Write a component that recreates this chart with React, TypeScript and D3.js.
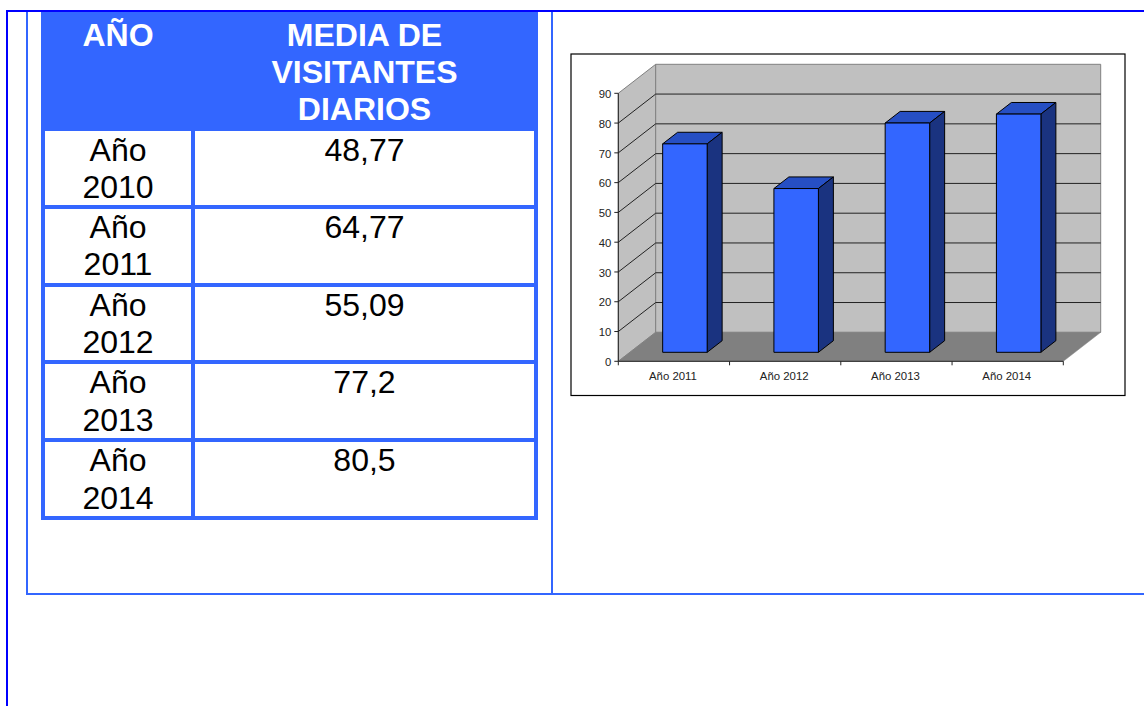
import React from "react";
import * as d3 from "d3";

const tableYears = ["2010", "2011", "2012", "2013", "2014"];
const tableValues = ["48,77", "64,77", "55,09", "77,2", "80,5"];
const headerLeft = ["AÑO"];
const headerRight = ["MEDIA DE", "VISITANTES", "DIARIOS"];
const rowTops = [131, 209, 287, 364, 442];
const rowHeights = [74, 74, 73, 74, 74];
const firstLineY = [161, 238, 316, 393, 471];
const secondLineY = [198, 275, 353, 431, 508.6];

const categories = ["Año 2011", "Año 2012", "Año 2013", "Año 2014"];
const values = [70, 55, 77, 80];
const yTicks = [0, 10, 20, 30, 40, 50, 60, 70, 80, 90];

const BLUE = "#3366FF";
const PURE = "#0000FF";
const FONT = "'Liberation Sans', Arial, sans-serif";

const x0 = 618.3, x1 = 1063.3;
const yBase = 361.3, yTop = 93.3;
const depthX = 37.4, depthY = -29;

const xScale = d3.scaleBand<string>().domain(categories).range([x0, x1]).paddingInner(0).paddingOuter(0);
const yScale = d3.scaleLinear().domain([0, 90]).range([yBase, yTop]);
// a point in the 3D box: x pixel, value, depth from 0 (front) to 1 (back)
const pt = (x: number, v: number, d: number): [number, number] => [x + depthX * d, yScale(v) + depthY * d];
const poly = (ps: [number, number][]) => (d3.line()(ps) as string) + "Z";

const barFrac = 0.4;
const dFront = 0.31;
const dBack = 0.71;

export default function App() {
  const bw = xScale.bandwidth();
  return (
    <svg width={1144} height={706} viewBox="0 0 1144 706" style={{ position: "absolute", left: 0, top: 0, display: "block", background: "#fff" }}>
      {/* page frame */}
      <rect x={6} y={10} width={1138} height={2} fill={PURE} />
      <rect x={6} y={10} width={2} height={696} fill={PURE} />
      <rect x={26} y={12} width={2} height={583} fill={BLUE} />
      <rect x={551} y={12} width={2} height={583} fill={BLUE} />
      <rect x={26} y={593} width={1118} height={2} fill={BLUE} />

      {/* table */}
      <rect x={41} y={12} width={497} height={508} fill={BLUE} />
      {rowTops.map((t, i) => (
        <g key={i}>
          <rect x={45} y={t} width={146} height={rowHeights[i]} fill="#fff" />
          <rect x={195} y={t} width={339} height={rowHeights[i]} fill="#fff" />
          <text x={118} y={firstLineY[i]} textAnchor="middle" fontFamily={FONT} fontSize={32} fill="#000">Año</text>
          <text x={118} y={secondLineY[i]} textAnchor="middle" fontFamily={FONT} fontSize={32} fill="#000">{tableYears[i]}</text>
          <text x={364.5} y={firstLineY[i]} textAnchor="middle" fontFamily={FONT} fontSize={32} fill="#000">{tableValues[i]}</text>
        </g>
      ))}
      {headerLeft.map((s, i) => (
        <text key={s} x={118} y={46 + i * 36.8} textAnchor="middle" fontFamily={FONT} fontSize={32} fontWeight="bold" fill="#fff">{s}</text>
      ))}
      {headerRight.map((s, i) => (
        <text key={s} x={364.5} y={46 + i * 36.8} textAnchor="middle" fontFamily={FONT} fontSize={32} fontWeight="bold" fill="#fff">{s}</text>
      ))}

      {/* chart box */}
      <rect x={571} y={54} width={554} height={341.5} fill="#fff" stroke="#000" strokeWidth={1.2} />

      {/* walls and floor */}
      <path d={poly([pt(x0, 90, 0), pt(x0, 90, 1), pt(x0, 0, 1), pt(x0, 0, 0)])} fill="#C0C0C0" stroke="#808080" strokeWidth={1} />
      <path d={poly([pt(x0, 90, 1), pt(x1, 90, 1), pt(x1, 0, 1), pt(x0, 0, 1)])} fill="#C0C0C0" stroke="#808080" strokeWidth={1} />
      <path d={poly([pt(x0, 0, 0), pt(x1, 0, 0), pt(x1, 0, 1), pt(x0, 0, 1)])} fill="#808080" stroke="#808080" strokeWidth={0.5} />

      {/* gridlines */}
      {yTicks.filter((t) => t > 0 && t < 90).map((t) => (
        <g key={t}>
          <path d={d3.line()([pt(x0, t, 0), pt(x0, t, 1), pt(x1, t, 1)]) as string} fill="none" stroke="#222" strokeWidth={1} />
        </g>
      ))}

      {/* bars */}
      {categories.map((c, i) => {
        const left = (xScale(c) as number) + (bw * (1 - barFrac)) / 2 - 0.6;
        const right = left + bw * barFrac;
        const v = values[i];
        return (
          <g key={c} stroke="#000" strokeWidth={1} strokeLinejoin="round">
            <path d={poly([pt(left, v, dFront), pt(right, v, dFront), pt(right, v, dBack), pt(left, v, dBack)])} fill="#264FC4" />
            <path d={poly([pt(right, v, dFront), pt(right, v, dBack), pt(right, 0, dBack), pt(right, 0, dFront)])} fill="#1A3380" />
            <path d={poly([pt(left, v, dFront), pt(right, v, dFront), pt(right, 0, dFront), pt(left, 0, dFront)])} fill={BLUE} />
          </g>
        );
      })}

      {/* axes */}
      <path d={`M${x0},${yTop}V${yBase}H${x1}`} fill="none" stroke="#222" strokeWidth={1} />
      {yTicks.map((t) => (
        <g key={t}>
          <line x1={x0 - 4} x2={x0} y1={yScale(t)} y2={yScale(t)} stroke="#222" strokeWidth={1} />
          <text x={x0 - 7} y={yScale(t) + 4.7} textAnchor="end" fontFamily={FONT} fontSize={11.3} fill="#222">{t}</text>
        </g>
      ))}
      <line x1={x0} x2={x0} y1={yBase} y2={yBase + 4} stroke="#222" />
      {categories.map((c) => {
        const s = xScale(c) as number;
        return (
          <g key={c}>
            <line x1={s + bw} x2={s + bw} y1={yBase} y2={yBase + 4} stroke="#222" />
            <text x={s + bw / 2 - 1} y={380} textAnchor="middle" fontFamily={FONT} fontSize={11.4} fill="#222">{c}</text>
          </g>
        );
      })}
    </svg>
  );
}
